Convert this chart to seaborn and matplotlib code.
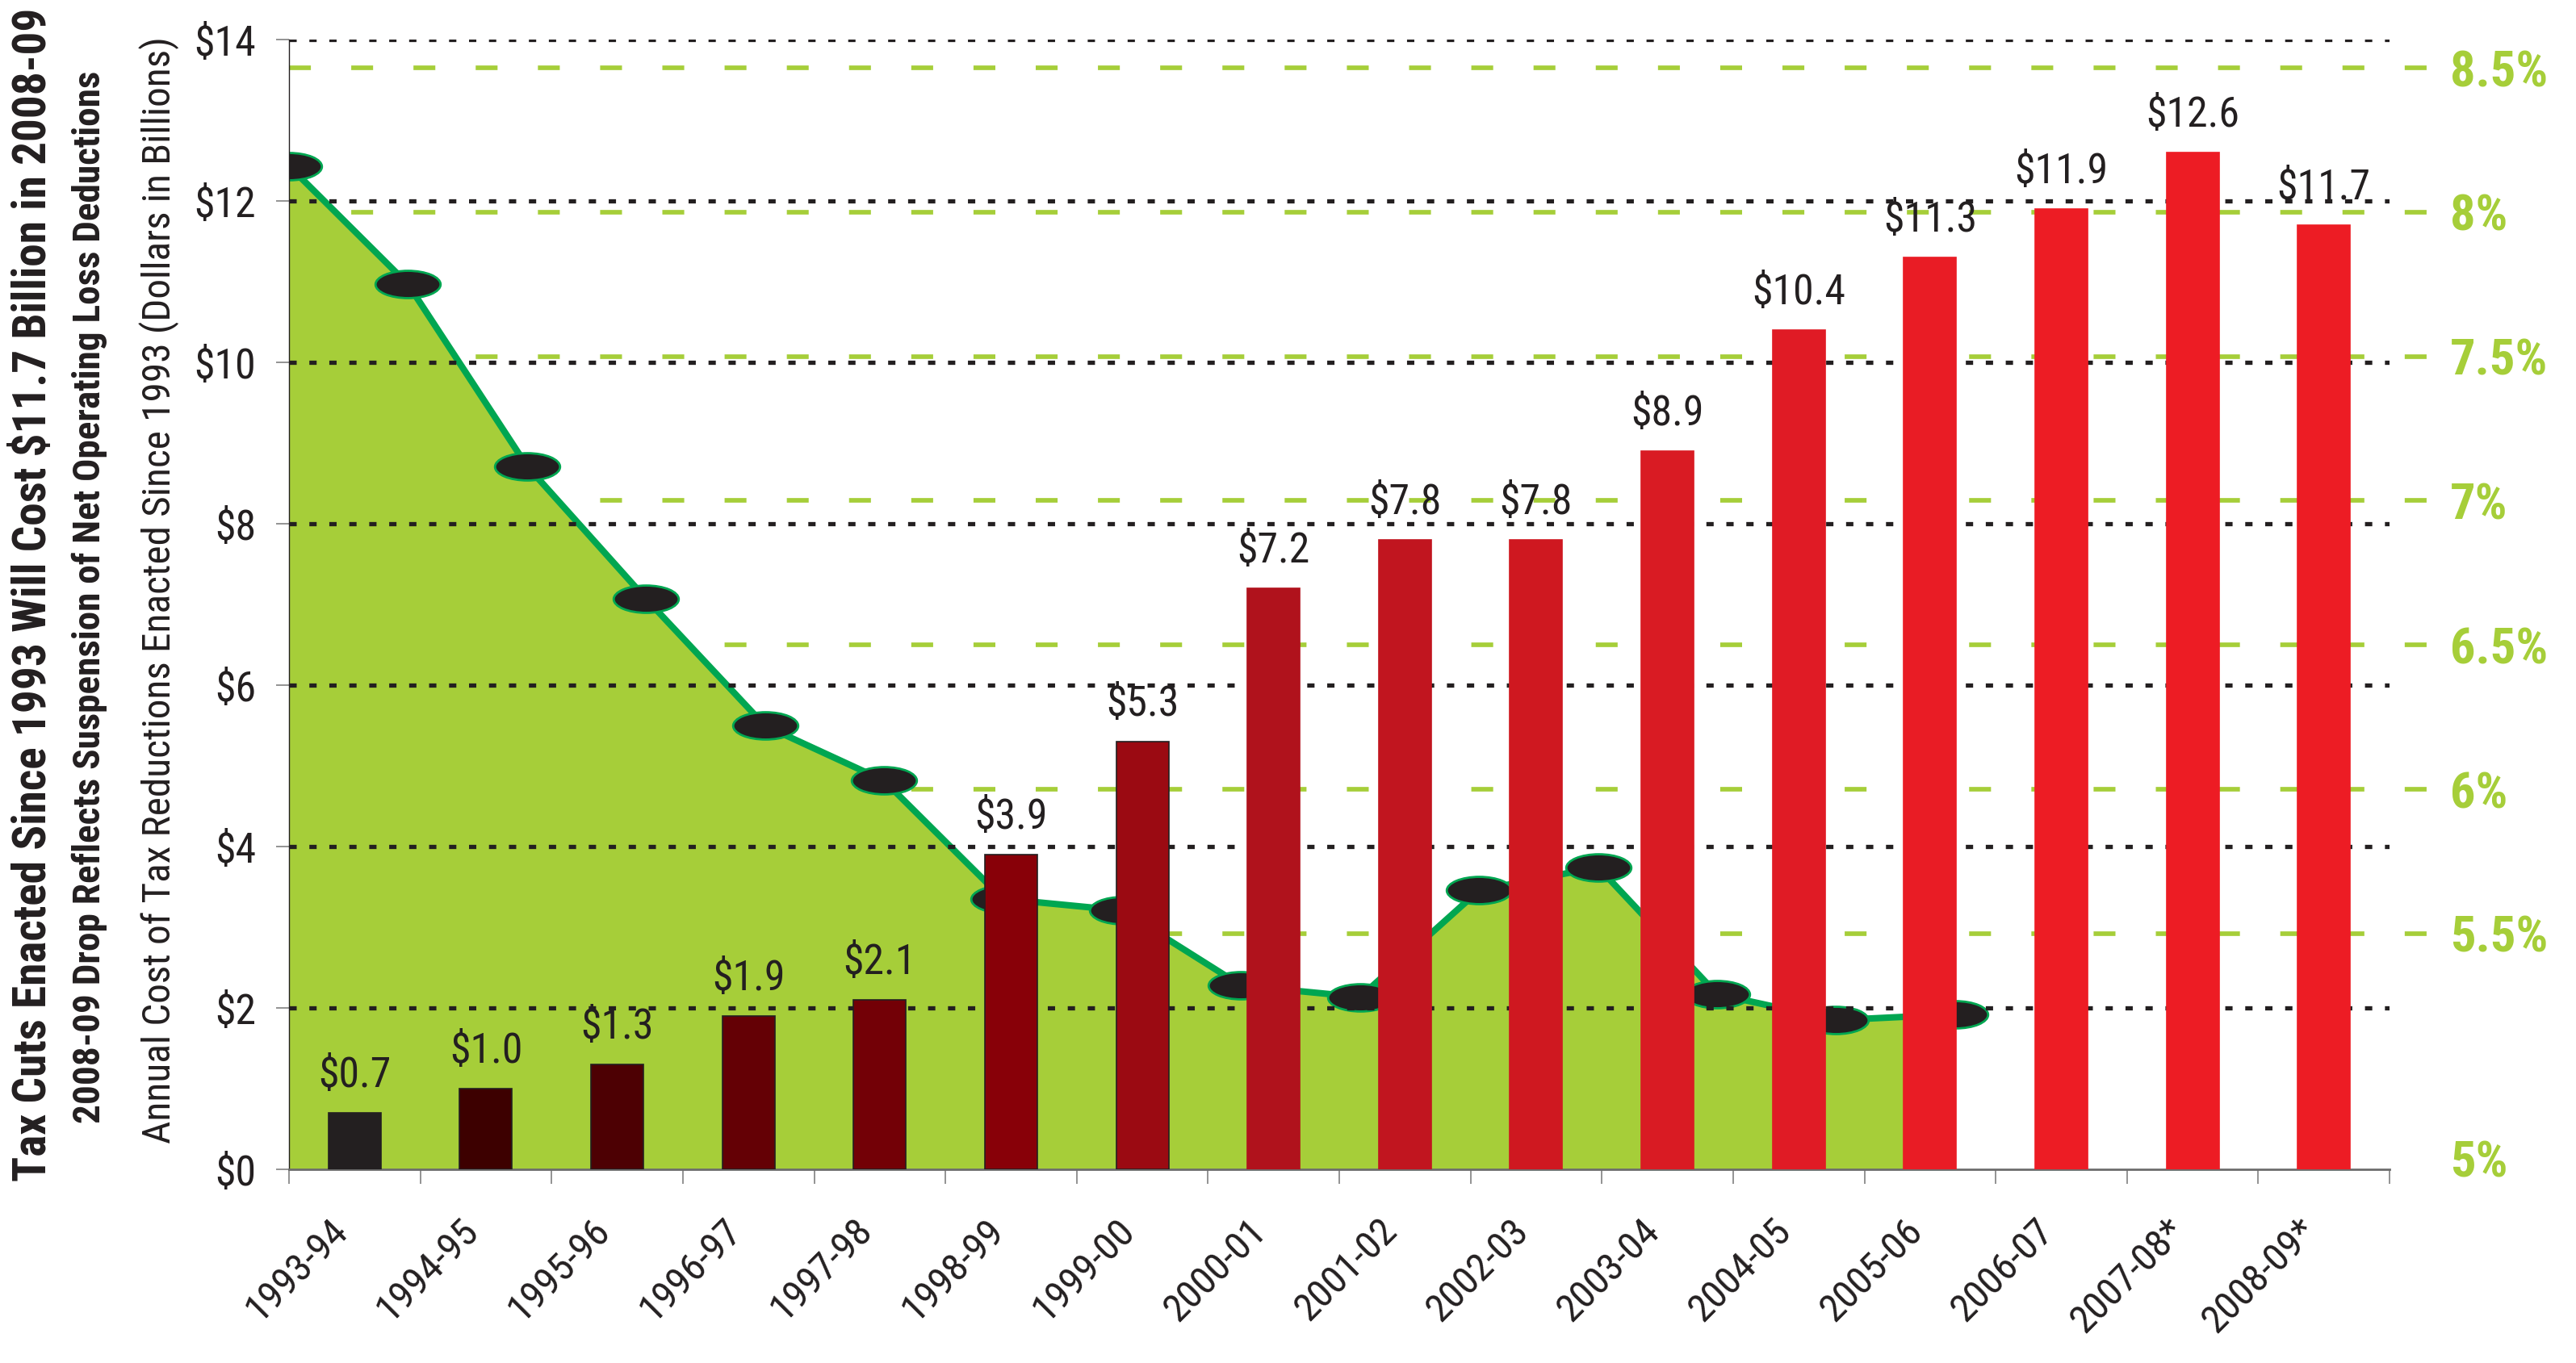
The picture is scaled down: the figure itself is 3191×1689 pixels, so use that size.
import matplotlib

matplotlib.use("Agg")

import matplotlib.pyplot as plt
import numpy as np
import pandas as pd
import seaborn as sns
from matplotlib import font_manager
from matplotlib.path import Path
from matplotlib.transforms import Affine2D


# fiscal years shown under the bars
YEARS = [
    "1993-94", "1994-95", "1995-96", "1996-97", "1997-98", "1998-99",
    "1999-00", "2000-01", "2001-02", "2002-03", "2003-04", "2004-05",
    "2005-06", "2006-07", "2007-08*", "2008-09*",
]
# annual cost of tax reductions enacted since 1993, $ billions
COST = [0.7, 1.0, 1.3, 1.9, 2.1, 3.9, 5.3, 7.2, 7.8, 7.8, 8.9, 10.4, 11.3, 11.9, 12.6, 11.7]
BAR_COLORS = [
    "#231f20", "#3d0000", "#4d0003", "#640005", "#730006", "#880008",
    "#9b0a12", "#b0121c", "#c1151f", "#cf1820", "#d91b23", "#e01b25",
    "#e91c25", "#ed1c24", "#ed1c24", "#ed1c24",
]
# the green area, read against the right-hand percent axis
RATE_PCT = [8.16, 7.75, 7.12, 6.66, 6.22, 6.03, 5.62, 5.58, 5.32, 5.28, 5.65, 5.73, 5.29, 5.20, 5.22]

DOLLAR_TICKS = [0, 2, 4, 6, 8, 10, 12, 14]
# the "5%" label sits on the floor of the axis in the original
PCT_TICKS = [4.72, 5.5, 6.0, 6.5, 7.0, 7.5, 8.0, 8.5]
PCT_LABELS = ["5%", "5.5%", "6%", "6.5%", "7%", "7.5%", "8%", "8.5%"]

TITLE_LINES = [
    "Tax Cuts Enacted Since 1993 Will Cost $11.7 Billion in 2008-09",
    "2008-09 Drop Reflects Suspension of Net Operating Loss Deductions",
    "Annual Cost of Tax Reductions Enacted Since 1993 (Dollars in Billions)",
]

LIME = "#a6ce39"
GREEN = "#00a651"
DARK = "#231f20"
GREY = "#808080"


def pick_condensed():
    # the original uses a condensed sans; take the narrowest one installed
    entries = font_manager.fontManager.ttflist
    names = {f.name for f in entries}
    for name in ("Liberation Sans Narrow", "Roboto Condensed", "Open Sans Condensed",
                 "Noto Sans Condensed", "DejaVu Sans Condensed"):
        if name in names:
            return name, "normal"
    for name in ("Noto Sans", "DejaVu Sans", "Open Sans", "Roboto"):
        for f in entries:
            if f.name == name and str(f.stretch) in ("condensed", "semi-condensed"):
                return name, str(f.stretch)
    return "Liberation Sans", "normal"


family, stretch = pick_condensed()

sns.set_theme(style="white")
plt.rcParams["font.family"] = [family, "Liberation Sans", "DejaVu Sans"]
plt.rcParams["font.stretch"] = stretch
plt.rcParams["lines.scale_dashes"] = False

fig = plt.figure(figsize=(31.91, 16.89), dpi=100)
renderer = fig.canvas.get_renderer()


def text_width(s, size, **kw):
    t = fig.text(0, 0, s, fontsize=size, **kw)
    w = t.get_window_extent(renderer).width
    t.remove()
    return w


# "$3.9" is about 84 px wide at 38 pt in the original; only shrink the
# labels when the installed font is clearly wider than that
k = float(np.clip((84 / text_width("$3.9", 38)) ** 0.5, 0.85, 1.0))

rect = [358 / 3191, 240 / 1689, 2602 / 3191, 1400 / 1689]

# --- area layer (percent scale, its own x spacing) ---
ax_area = fig.add_axes(rect, zorder=1)
x_area = np.arange(len(RATE_PCT))
ax_area.fill_between(x_area, RATE_PCT, 0, color=LIME, lw=0, zorder=1)
for p in PCT_TICKS[1:]:
    ax_area.axhline(p, xmin=0, xmax=1.018, color=LIME, lw=4.1,
                    ls=(0, (19.5, 36)), clip_on=False, zorder=2)
sns.lineplot(x=x_area, y=RATE_PCT, color=GREEN, lw=5.8, estimator=None,
             ax=ax_area, zorder=3)
ellipse = Path.unit_circle().transformed(Affine2D().scale(1, 0.42))
sns.scatterplot(x=x_area, y=RATE_PCT, marker=ellipse, s=58 ** 2, color=DARK,
                edgecolor=GREEN, linewidth=2, ax=ax_area, zorder=4)
ax_area.set_xlim(0, 17.65)
ax_area.set_ylim(4.683, 8.598)
ax_area.set_xticks([])
ax_area.yaxis.tick_right()
ax_area.set_yticks(PCT_TICKS, PCT_LABELS)
ax_area.tick_params(axis="y", length=0, pad=54, labelsize=47 * k, labelcolor=LIME)
for lab in ax_area.get_yticklabels():
    lab.set_fontweight("bold")
for side in ax_area.spines.values():
    side.set_visible(False)
ax_area.set_xlabel("")
ax_area.set_ylabel("")

# --- bar layer (dollar scale) ---
ax = fig.add_axes(rect, zorder=2)
ax.patch.set_alpha(0)
for y in DOLLAR_TICKS[1:]:
    ax.axhline(y, color=DARK, lw=3.8, ls=(0, (6.5, 11.3)), zorder=1)

df = pd.DataFrame({"year": YEARS, "cost": COST})
sns.barplot(data=df, x="year", y="cost", hue="year", palette=BAR_COLORS,
            saturation=1, width=0.4, legend=False, ax=ax, zorder=3)
for i, (bar, fc) in enumerate(zip(ax.patches, BAR_COLORS)):
    bar.set_edgecolor(DARK if i < 7 else fc)
    bar.set_linewidth(1.2)
for cont, v in zip(ax.containers, COST):
    ax.bar_label(cont, labels=[f"${v:.1f}"], padding=15, fontsize=39 * k, color=DARK)

ax.set_xlim(-0.5, len(YEARS) - 0.5)
ax.set_ylim(0, 14)
ax.set_yticks(DOLLAR_TICKS, [f"${t}" for t in DOLLAR_TICKS])
ax.tick_params(axis="y", left=True, length=11.5, width=1.2, color=GREY, pad=18,
               labelsize=39 * k, labelcolor=DARK)
ax.set_xticks(range(len(YEARS)), YEARS)
ax.set_xticks(np.arange(-0.5, len(YEARS)), minor=True)
ax.tick_params(axis="x", which="major", length=0, pad=38, labelsize=37 * k,
               labelcolor=DARK, labelrotation=45)
ax.tick_params(axis="x", which="minor", bottom=True, length=13, width=1.2, color=GREY)
for lab in ax.get_xticklabels():
    lab.set_ha("right")
ax.set_xlabel("")
ax.set_ylabel("")
ax.spines["top"].set_visible(False)
ax.spines["right"].set_visible(False)
ax.spines["left"].set_color(DARK)
ax.spines["left"].set_linewidth(1)
ax.spines["bottom"].set_color("#6d6d6d")
ax.spines["bottom"].set_linewidth(2)

# --- stacked axis titles on the left, sized to the length they run in the original ---
title_x = [42, 111, 197]
title_y = [0.5636, 0.562, 0.567]
title_len = [1455, 1317, 1374]
title_weight = ["bold", "bold", "normal"]
title_max = [44, 34, 40]
for s, x, y, length, weight, top in zip(TITLE_LINES, title_x, title_y, title_len,
                                        title_weight, title_max):
    size = min(top, 30 * length / text_width(s, 30, fontweight=weight))
    fig.text(x / 3191, y, s, rotation=90, ha="center", va="center", fontsize=size,
             fontweight=weight, color=DARK)

fig.savefig("out.png", dpi=100)
